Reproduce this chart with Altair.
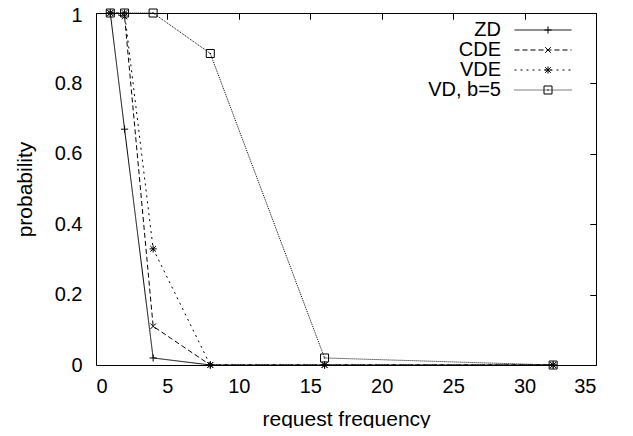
import altair as alt
import pandas as pd

freq = [1, 2, 4, 8, 16, 32]
series_names = ["ZD", "CDE", "VDE", "VD, b=5"]
zd = [1.0, 0.67, 0.02, 0.0, 0.0, 0.0]
cde = [1.0, 0.99, 0.11, 0.0, 0.0, 0.0]
vde = [1.0, 1.0, 0.33, 0.0, 0.0, 0.0]
vd = [1.0, 1.0, 1.0, 0.885, 0.02, 0.0]

x_ticks = [0, 5, 10, 15, 20, 25, 30, 35]
y_ticks = [0, 0.2, 0.4, 0.6, 0.8, 1]

marker_names = ["mk " + n for n in series_names]

rows = []
for name, mk, vals in zip(series_names, marker_names, [zd, cde, vde, vd]):
    for f, v in zip(freq, vals):
        rows.append({"freq": f, "prob": v, "series": name, "marker": mk})
df = pd.DataFrame(rows)

FONT = "Liberation Sans"
FS = 20
xs = alt.Scale(domain=[0, 35], nice=False, zero=False)
ys = alt.Scale(domain=[0, 1], nice=False)

dash_scale = alt.Scale(domain=series_names, range=[[1, 0], [5, 3], [2, 4], [1, 1]])
shape_scale = alt.Scale(
    domain=marker_names,
    range=[
        "M-0.9,0H0.9M0,-0.9V0.9",
        "M-0.7,-0.7L0.7,0.7M-0.7,0.7L0.7,-0.7",
        "M-0.9,0H0.9M0,-0.9V0.9M-0.7,-0.7L0.7,0.7M-0.7,0.7L0.7,-0.7",
        "M-1,-1H1V1H-1ZM-0.2,0H0.2",
    ],
)

base = alt.Chart(df)

x_main = alt.Axis(values=x_ticks, ticks=False, tickSize=0, domain=False, grid=False,
                  labelFontSize=FS, labelFont=FONT, labelColor="black", labelPadding=11,
                  title="request frequency", titleFont=FONT, titleFontSize=21,
                  titleFontWeight="normal", titleColor="black",
                  titleBaseline="alphabetic", titleY=60)
y_main = alt.Axis(values=y_ticks, format="~g", ticks=False, tickSize=0, domain=False, grid=False,
                  labelFontSize=FS, labelFont=FONT, labelColor="black", labelPadding=14,
                  labelOffset={"condition": {"test": "datum.value === 1", "value": 2}, "value": 0},
                  title="probability", titleFont=FONT, titleFontSize=21,
                  titleFontWeight="normal", titleColor="black",
                  titleBaseline="middle", titleX=-71, titleY=176, titleAlign="center", titleAngle=270)

lines = base.mark_line(strokeWidth=1, color="black").encode(
    x=alt.X("freq:Q", scale=xs, axis=x_main),
    y=alt.Y("prob:Q", scale=ys, axis=y_main),
    strokeDash=alt.StrokeDash(
        "series:N", scale=dash_scale,
        legend=alt.Legend(title=None, orient="none", legendX=437, legendY=7,
                          symbolType="M-3,0H3", symbolSize=361, symbolStrokeWidth=1,
                          symbolStrokeColor="black", symbolFillColor="transparent",
                          labelFont=FONT, labelFontSize=FS, labelColor="black",
                          labelAlign="right", labelOffset={"expr": "-52"}, padding=0, offset=0,
                          rowPadding=0),
    ),
    order="freq:Q",
)

inner_x = alt.Axis(values=x_ticks, labels=False, domain=False, grid=False, ticks=True,
                   tickSize=6, tickColor="black", offset=-6, title=None)
inner_y = alt.Axis(values=y_ticks, labels=False, domain=False, grid=False, ticks=True,
                   tickSize=6, tickColor="black", offset=-6, title=None)

points = base.mark_point(filled=False, strokeWidth=1, color="black", size=64, opacity=1).encode(
    x=alt.X("freq:Q", scale=xs, axis=inner_x),
    y=alt.Y("prob:Q", scale=ys, axis=inner_y),
    shape=alt.Shape(
        "marker:N", scale=shape_scale,
        legend=alt.Legend(title=None, orient="none", legendX=442, legendY=7,
                          symbolSize=64, symbolStrokeWidth=1, symbolStrokeColor="black",
                          symbolFillColor="transparent",
                          labelExpr="' '", labelFontSize=FS, labelFont=FONT,
                          padding=0, offset=0, rowPadding=0),
    ),
)

top_x = alt.Axis(values=x_ticks, orient="top", labels=False, domain=False, grid=False,
                 ticks=True, tickSize=6, tickColor="black", offset=-6, title=None)
right_y = alt.Axis(values=y_ticks, orient="right", labels=False, domain=False, grid=False,
                   ticks=True, tickSize=6, tickColor="black", offset=-6, title=None)

mirror = base.mark_point(opacity=0).encode(
    x=alt.X("freq:Q", scale=xs, axis=top_x),
    y=alt.Y("prob:Q", scale=ys, axis=right_y),
)

chart = (
    alt.layer(lines, points, mirror)
    .resolve_axis(x="independent", y="independent")
    .properties(
        width=500,
        height=352,
        autosize=alt.AutoSizeParams(type="none"),
        padding={"left": 88, "top": 5, "right": 29, "bottom": 63},
        background="white",
    )
    .configure_view(stroke="black", strokeWidth=1)
)

chart.save("out.html", embed_options={"renderer": "svg", "actions": False})
